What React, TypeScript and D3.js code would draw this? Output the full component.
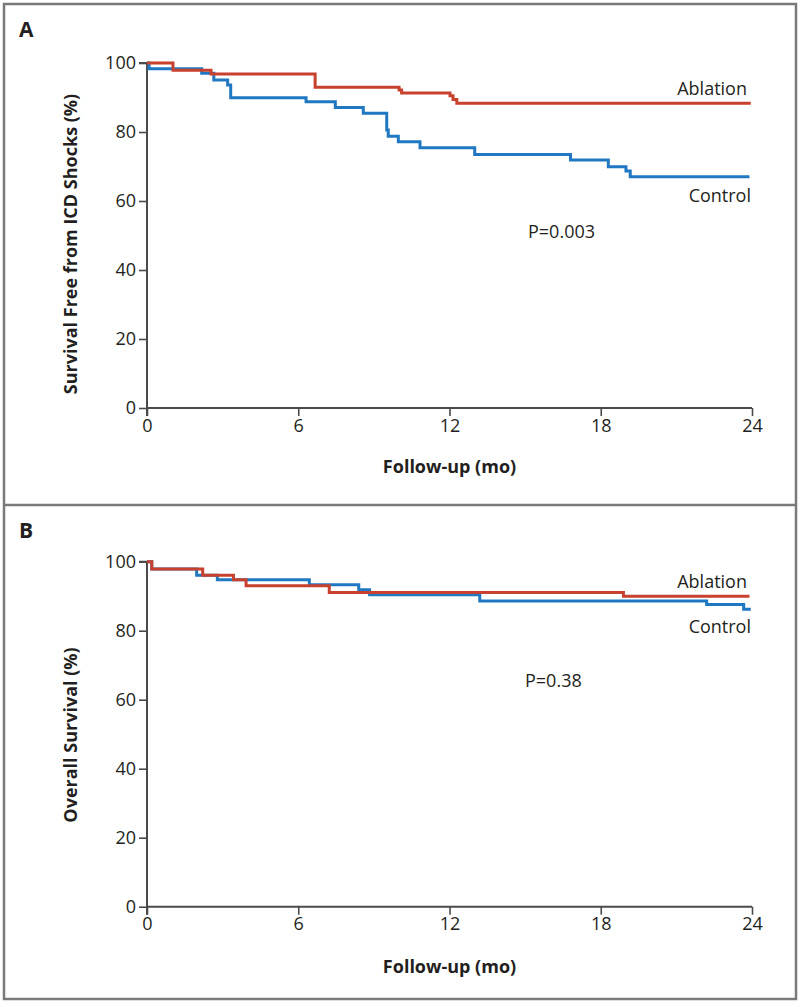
import React, { useEffect, useRef } from "react";
import * as d3 from "d3";

// ---- Data ----
const xTicks = [0, 6, 12, 18, 24];
const yTicks = [0, 20, 40, 60, 80, 100];

// Panel A: survival free from ICD shocks
const aAblationTime = [0, 1.03, 2.54, 6.67, 10.0, 10.1, 12.02, 12.14, 12.29, 23.95];
const aAblationSurv = [100, 97.9, 96.8, 93.0, 92.2, 91.3, 90.5, 89.4, 88.3, 88.3];
const aControlTime = [0, 0.08, 2.17, 2.65, 3.2, 3.32, 6.31, 7.47, 8.58, 9.51, 9.57, 9.97, 10.83, 13.0, 16.8, 18.3, 19.0, 19.17, 23.9];
const aControlSurv = [100, 98.3, 97.0, 95.1, 93.6, 89.9, 88.8, 87.1, 85.4, 80.6, 78.8, 77.2, 75.4, 73.5, 71.9, 69.9, 68.7, 67.0, 67.0];

// Panel B: overall survival
const bAblationTime = [0, 0.19, 2.21, 3.43, 3.93, 7.23, 18.9, 23.9];
const bAblationSurv = [100, 97.9, 96.1, 94.8, 93.0, 91.1, 90.0, 90.0];
const bControlTime = [0, 0.19, 1.97, 2.79, 6.44, 8.4, 8.83, 13.2, 22.2, 23.67, 23.95];
const bControlSurv = [100, 97.9, 96.1, 94.8, 93.3, 91.9, 90.4, 88.6, 87.6, 86.2, 86.2];

const RED = "#c8412e";
const BLUE = "#1f78c1";
const AXIS = "#4a4a4a";
const TEXT = "#231f20";
const FONT = "'Open Sans', sans-serif";

type Panel = {
  letter: string;
  top: number; // y of 100
  bottom: number; // y of 0
  yTitle: string;
  yTitleY: number;
  ablT: number[]; ablS: number[];
  ctlT: number[]; ctlS: number[];
  ablLabelY: number; ctlLabelY: number;
  pText: string; pX: number; pY: number;
  letterY: number;
  titleY: number;
};

const panels: Panel[] = [
  {
    letter: "A", top: 63, bottom: 408, yTitle: "Survival Free from ICD Shocks (%)", yTitleY: 244,
    ablT: aAblationTime, ablS: aAblationSurv, ctlT: aControlTime, ctlS: aControlSurv,
    ablLabelY: 95, ctlLabelY: 201.5, pText: "P=0.003", pX: 528, pY: 238, letterY: 37, titleY: 473,
  },
  {
    letter: "B", top: 561.7, bottom: 906.7, yTitle: "Overall Survival (%)", yTitleY: 735,
    ablT: bAblationTime, ablS: bAblationSurv, ctlT: bControlTime, ctlS: bControlSurv,
    ablLabelY: 588.3, ctlLabelY: 632.7, pText: "P=0.38", pX: 525, pY: 687.3, letterY: 538, titleY: 973,
  },
];

export default function App() {
  const ref = useRef<SVGSVGElement | null>(null);

  useEffect(() => {
    const svg = d3.select(ref.current);
    svg.selectAll("*").remove();

    // Frame
    svg.append("rect").attr("x", 4).attr("y", 4).attr("width", 792).attr("height", 995)
      .attr("fill", "white").attr("stroke", "#7a7a7a").attr("stroke-width", 2.5);
    svg.append("line").attr("x1", 4).attr("x2", 796).attr("y1", 505).attr("y2", 505)
      .attr("stroke", "#7a7a7a").attr("stroke-width", 2.5);

    const x = d3.scaleLinear().domain([0, 24]).range([147, 752]);

    panels.forEach((p) => {
      const y = d3.scaleLinear().domain([0, 100]).range([p.bottom, p.top]);
      const g = svg.append("g");

      // Panel letter
      g.append("text").attr("x", 19).attr("y", p.letterY).text(p.letter)
        .attr("font-family", FONT).attr("font-weight", 700).attr("font-size", 21).attr("fill", TEXT);

      // Y axis
      const yAxis = d3.axisLeft(y).tickValues(yTicks).tickSize(8).tickPadding(3).tickFormat(d3.format("d"));
      const ga = g.append("g").attr("transform", `translate(${x(0)},0)`).call(yAxis);
      ga.select(".domain").attr("stroke", AXIS).attr("stroke-width", 2).attr("d", `M-8,${p.top}H0V${p.bottom + 8}`);
      ga.selectAll(".tick line").attr("stroke", AXIS).attr("stroke-width", 1.6);
      ga.selectAll(".tick text").attr("font-family", FONT).attr("font-size", 18).attr("fill", TEXT);

      // X axis
      const xAxis = d3.axisBottom(x).tickValues(xTicks).tickSize(8).tickPadding(3).tickFormat(d3.format("d"));
      const gx = g.append("g").attr("transform", `translate(0,${p.bottom})`).call(xAxis);
      gx.select(".domain").attr("stroke", AXIS).attr("stroke-width", 2).attr("d", `M${x(0)},0H${x(24)}`);
      gx.selectAll(".tick line").attr("stroke", AXIS).attr("stroke-width", 1.6);
      gx.selectAll(".tick text").attr("font-family", FONT).attr("font-size", 18).attr("fill", TEXT);

      // Titles
      g.append("text").attr("x", (x(0) + x(24)) / 2).attr("y", p.titleY).attr("text-anchor", "middle")
        .attr("font-family", FONT).attr("font-weight", 700).attr("font-size", 18).attr("fill", TEXT)
        .text("Follow-up (mo)");
      g.append("text").attr("transform", `translate(77,${p.yTitleY}) rotate(-90)`).attr("text-anchor", "middle")
        .attr("font-family", FONT).attr("font-weight", 700).attr("font-size", 18).attr("fill", TEXT)
        .text(p.yTitle);

      // Curves
      const line = d3.line<[number, number]>()
        .x((d) => x(d[0])).y((d) => y(d[1])).curve(d3.curveStepAfter);
      const ctl = p.ctlT.map((t, i) => [t, p.ctlS[i]] as [number, number]);
      const abl = p.ablT.map((t, i) => [t, p.ablS[i]] as [number, number]);
      g.append("path").attr("d", line(ctl)).attr("fill", "none").attr("stroke", BLUE).attr("stroke-width", 3);
      g.append("path").attr("d", line(abl)).attr("fill", "none").attr("stroke", RED).attr("stroke-width", 3);

      // Labels
      g.append("text").attr("x", 747).attr("y", p.ablLabelY).attr("text-anchor", "end")
        .attr("font-family", FONT).attr("font-size", 18).attr("fill", TEXT).text("Ablation");
      g.append("text").attr("x", 751).attr("y", p.ctlLabelY).attr("text-anchor", "end")
        .attr("font-family", FONT).attr("font-size", 18).attr("fill", TEXT).text("Control");
      g.append("text").attr("x", p.pX).attr("y", p.pY)
        .attr("font-family", FONT).attr("font-size", 18).attr("fill", TEXT).text(p.pText);
    });
  }, []);

  return (
    <svg ref={ref} width={800} height={1007}
      style={{ position: "absolute", left: 0, top: 0, background: "white" }} />
  );
}
